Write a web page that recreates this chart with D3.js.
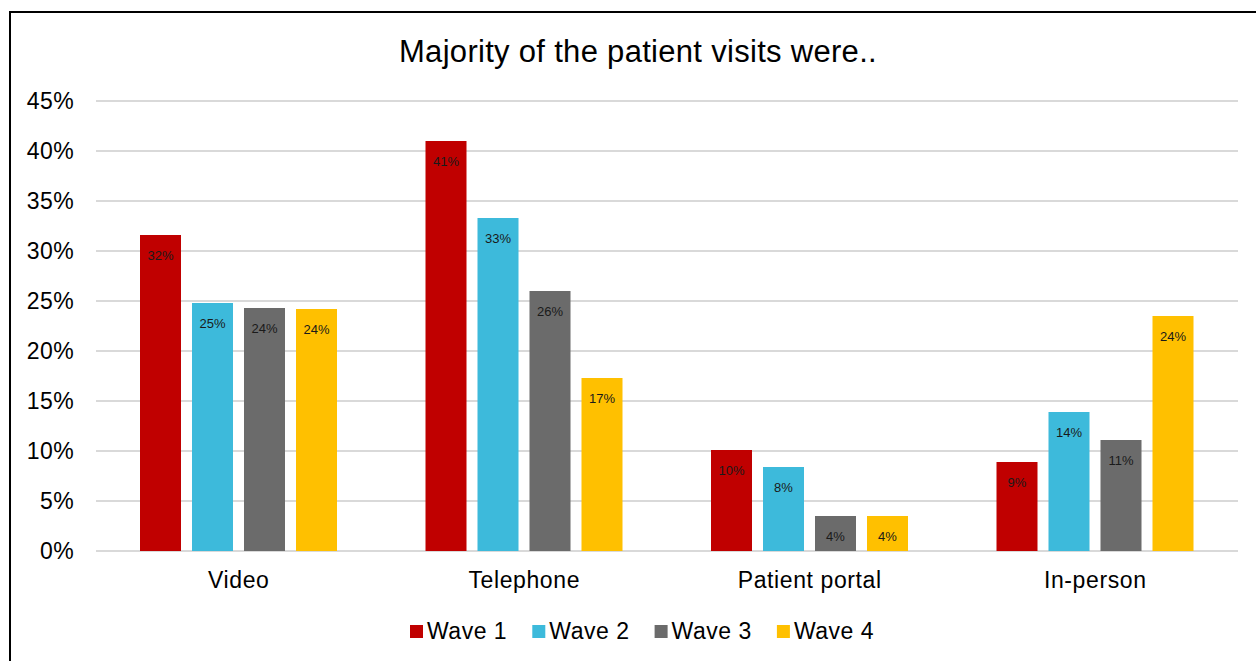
<!DOCTYPE html>
<html>
<head>
<meta charset="utf-8">
<script src="https://cdn.jsdelivr.net/npm/d3@7"></script>
<style>
  body { margin: 0; background: #fff; }
  svg { display: block; font-family: "Liberation Sans", Arial, sans-serif; }
</style>
</head>
<body>
<div id="vis"></div>
<script>
// chart data
let categories = ['Video', 'Telephone', 'Patient portal', 'In-person'];
let seriesNames = ['Wave 1', 'Wave 2', 'Wave 3', 'Wave 4'];
let wave1 = [31.6, 41.0, 10.1, 8.9];
let wave2 = [24.8, 33.3, 8.4, 13.9];
let wave3 = [24.3, 26.0, 3.5, 11.1];
let wave4 = [24.2, 17.3, 3.5, 23.5];
let yTicks = [0, 5, 10, 15, 20, 25, 30, 35, 40, 45];
let colors = ['#C00000', '#3DBADB', '#6B6B6B', '#FFC000'];

let allSeries = [wave1, wave2, wave3, wave4];

let width = 1256,
    height = 661,
    margin = { top: 101, left: 96, right: 18, bottom: 110 };

let svg = d3.select('#vis')
    .append('svg')
    .attr('width', width)
    .attr('height', height);

// outer frame
svg.append('rect')
    .attr('x', 10)
    .attr('y', 12)
    .attr('width', width + 20)
    .attr('height', height + 20)
    .attr('fill', 'none')
    .attr('stroke', '#000')
    .attr('stroke-width', 2);

let x0 = d3.scaleBand()
    .domain(categories)
    .range([margin.left, width - margin.right]);

let x1 = d3.scaleBand()
    .domain(seriesNames)
    .range([44, 44 + 197])
    .paddingInner(11 / 52);

let y = d3.scaleLinear()
    .domain([0, 45])
    .range([height - margin.bottom, margin.top]);

// gridlines
svg.append('g')
    .selectAll('line')
    .data(yTicks)
    .join('line')
    .attr('x1', margin.left)
    .attr('x2', width - margin.right)
    .attr('y1', d => y(d))
    .attr('y2', d => y(d))
    .attr('stroke', '#d9d9d9')
    .attr('stroke-width', 2);

// y axis labels
let yAxis = svg.append('g')
    .attr('transform', `translate(${margin.left - 22},0)`)
    .call(d3.axisLeft(y).tickValues(yTicks).tickFormat(d => d + '%').tickSize(0).tickPadding(0));
yAxis.select('.domain').remove();
yAxis.selectAll('text')
    .attr('font-size', 23)
    .attr('letter-spacing', 0.4)
    .attr('font-family', '"Liberation Sans", Arial, sans-serif')
    .attr('fill', '#000');

// x axis labels
let xAxis = svg.append('g')
    .attr('transform', `translate(0,${y(0)})`)
    .call(d3.axisBottom(x0).tickSize(0).tickPadding(21));
xAxis.select('.domain').remove();
xAxis.selectAll('text')
    .attr('font-size', 23)
    .attr('letter-spacing', 0.6)
    .attr('font-family', '"Liberation Sans", Arial, sans-serif')
    .attr('fill', '#000');

// bars
let groups = svg.append('g')
    .selectAll('g')
    .data(categories)
    .join('g')
    .attr('transform', d => `translate(${x0(d)},0)`);

groups.selectAll('rect')
    .data((d, i) => seriesNames.map((s, j) => ({ s: s, v: allSeries[j][i], j: j })))
    .join('rect')
    .attr('x', d => x1(d.s))
    .attr('y', d => y(d.v))
    .attr('width', x1.bandwidth())
    .attr('height', d => y(0) - y(d.v))
    .attr('fill', d => colors[d.j]);

groups.selectAll('text.lbl')
    .data((d, i) => seriesNames.map((s, j) => ({ s: s, v: allSeries[j][i], j: j })))
    .join('text')
    .attr('class', 'lbl')
    .attr('x', d => x1(d.s) + x1.bandwidth() / 2)
    .attr('y', d => y(d.v) + 25)
    .attr('text-anchor', 'middle')
    .attr('font-size', 13)
    .attr('fill', '#1a1a1a')
    .text(d => Math.round(d.v) + '%');

// title
svg.append('text')
    .attr('x', 638)
    .attr('y', 62)
    .attr('text-anchor', 'middle')
    .attr('font-size', 31)
    .attr('letter-spacing', 0.3)
    .attr('fill', '#000')
    .text('Majority of the patient visits were..');

// legend
let legend = svg.append('g')
    .selectAll('g')
    .data(seriesNames)
    .join('g')
    .attr('transform', (d, i) => `translate(${410 + i * 122.3},0)`);

legend.append('rect')
    .attr('x', 0)
    .attr('y', 625)
    .attr('width', 13)
    .attr('height', 13)
    .attr('fill', (d, i) => colors[i]);

legend.append('text')
    .attr('x', 17)
    .attr('y', 639)
    .attr('font-size', 23)
    .attr('letter-spacing', 0.5)
    .attr('fill', '#000')
    .text(d => d);
</script>
</body>
</html>
